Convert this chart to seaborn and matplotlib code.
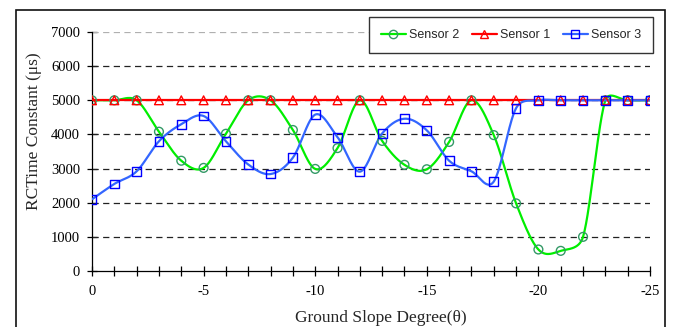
import numpy as np
import pandas as pd
import matplotlib
matplotlib.use("Agg")
import matplotlib.pyplot as plt
from matplotlib.lines import Line2D
from matplotlib.patches import Rectangle
import seaborn as sns

# ---- data ----
slope = [0, -1, -2, -3, -4, -5, -6, -7, -8, -9, -10, -11, -12, -13, -14, -15,
         -16, -17, -18, -19, -20, -21, -22, -23, -24, -25]
sensor2 = [5000, 5000, 5000, 4080, 3230, 3020, 4020, 5000, 5000, 4130, 2990, 3600, 5000,
           3810, 3110, 2980, 3780, 5000, 3980, 1980, 630, 590, 1000, 5000, 5000, 5000]
sensor1 = [5000] * 26
sensor3 = [2100, 2550, 2920, 3800, 4300, 4540, 3800, 3120, 2840, 3320, 4580, 3920, 2910,
           4030, 4460, 4120, 3230, 2920, 2620, 4770, 5000, 5000, 5000, 5000, 5000, 5000]
series_names = ["Sensor 2", "Sensor 1", "Sensor 3"]
xticks = [0, -5, -10, -15, -20, -25]
yticks = [0, 1000, 2000, 3000, 4000, 5000, 6000, 7000]

line_colors = {"Sensor 2": "#00EE00", "Sensor 1": "#FF0000", "Sensor 3": "#3366FF"}
edge_colors = {"Sensor 2": "#339966", "Sensor 1": "#FF0000", "Sensor 3": "#0000FF"}
markers = {"Sensor 2": "o", "Sensor 1": "^", "Sensor 3": "s"}


def smooth(xs, ys, sx=22.3, sy=0.03414, n=30):
    """Excel-like Bezier smoothing computed in screen-like units."""
    P = np.column_stack([np.asarray(xs, float) * sx, np.asarray(ys, float) * sy])
    m = len(P)
    out = []
    for i in range(m - 1):
        p0 = P[i - 1] if i > 0 else P[i]
        p1, p2 = P[i], P[i + 1]
        p3 = P[i + 2] if i + 2 < m else P[i + 1]
        seg = np.linalg.norm(p2 - p1)
        t1 = (p2 - p0) / 6.0
        t2 = (p3 - p1) / 6.0
        lim = 0.5 * seg
        for t in (t1, t2):
            nt = np.linalg.norm(t)
            if nt > lim and nt > 0:
                t *= lim / nt
        c1 = p1 + t1
        c2 = p2 - t2
        ts = np.linspace(0, 1, n, endpoint=(i == m - 2))
        for tt in ts:
            b = ((1 - tt) ** 3) * p1 + 3 * ((1 - tt) ** 2) * tt * c1 + 3 * (1 - tt) * tt ** 2 * c2 + tt ** 3 * p2
            out.append(b)
    out = np.array(out)
    return out[:, 0] / sx, out[:, 1] / sy


sns.set_theme(style="white")
plt.rcParams["font.family"] = ["Liberation Serif", "DejaVu Serif"]

fig = plt.figure(figsize=(6.81, 3.27), dpi=100)
ax = fig.add_axes([92 / 681, 1 - 271 / 327, (650 - 92) / 681, (271 - 32) / 327])

data = {"Sensor 2": sensor2, "Sensor 1": sensor1, "Sensor 3": sensor3}
z = {"Sensor 2": 2, "Sensor 1": 3, "Sensor 3": 4}
for name in series_names:
    sxv, syv = smooth(slope, data[name])
    df = pd.DataFrame({"x": sxv, "y": syv})
    sns.lineplot(data=df, x="x", y="y", sort=False, ax=ax, color=line_colors[name],
                 linewidth=1.6, zorder=z[name], estimator=None)
for name in series_names:
    dfp = pd.DataFrame({"x": slope, "y": data[name]})
    sns.scatterplot(data=dfp, x="x", y="y", ax=ax, marker=markers[name], s=40,
                    facecolors="none", edgecolor=edge_colors[name], linewidth=1.0,
                    zorder=6)

ax.set_xlim(0, -25)
ax.set_ylim(0, 7000)
ax.set_xticks(xticks)
ax.set_xticks(slope, minor=True)
ax.set_yticks(yticks)
ax.set_xticklabels([str(v) for v in xticks])
ax.set_yticklabels([str(v) for v in yticks])
ax.tick_params(axis="both", which="both", direction="inout", length=7, width=0.9,
               colors="black", labelsize=10.5, bottom=True, left=True)
ax.tick_params(axis="x", pad=6.5)
ax.tick_params(axis="y", pad=5)

for sp in ["top", "right"]:
    ax.spines[sp].set_visible(False)
for sp in ["left", "bottom"]:
    ax.spines[sp].set_color("black")
    ax.spines[sp].set_linewidth(0.9)

# dashed horizontal gridlines
for yv in yticks[1:]:
    ax.axhline(yv, color="#b0b0b0" if yv == 7000 else "#222222", linewidth=0.9,
               linestyle=(0, (5, 3.5)), zorder=1)

ax.set_xlabel("Ground Slope Degree(\u03b8)", fontsize=12.5)
ax.set_ylabel("RCTime Constant (\u03bcs)", fontsize=12.5)
ax.yaxis.set_label_coords(-0.089, 0.585)
ax.xaxis.set_label_coords(0.518, -0.162)

handles = [Line2D([0], [0], color=line_colors[n], lw=1.6, marker=markers[n], markersize=6,
                  markerfacecolor="none", markeredgecolor=edge_colors[n], markeredgewidth=1.0)
           for n in series_names]
leg = fig.legend(handles, series_names, loc="upper left", ncol=3,
                 bbox_to_anchor=(369 / 681, 1 - 17 / 327),
                 prop={"family": "Liberation Sans", "size": 9},
                 frameon=True, fancybox=False, shadow=False, framealpha=1,
                 edgecolor="#333333", handlelength=2.0, handletextpad=0.25,
                 columnspacing=1.0, borderpad=0.95, borderaxespad=0)
leg.get_frame().set_linewidth(1.0)

fig.patches.append(Rectangle((16 / 681, -0.1), (665 - 16) / 681, (327 - 10) / 327 + 0.1,
                             transform=fig.transFigure, fill=False, edgecolor="#111111",
                             linewidth=1.2, zorder=0))

fig.savefig("out.png", dpi=100)
